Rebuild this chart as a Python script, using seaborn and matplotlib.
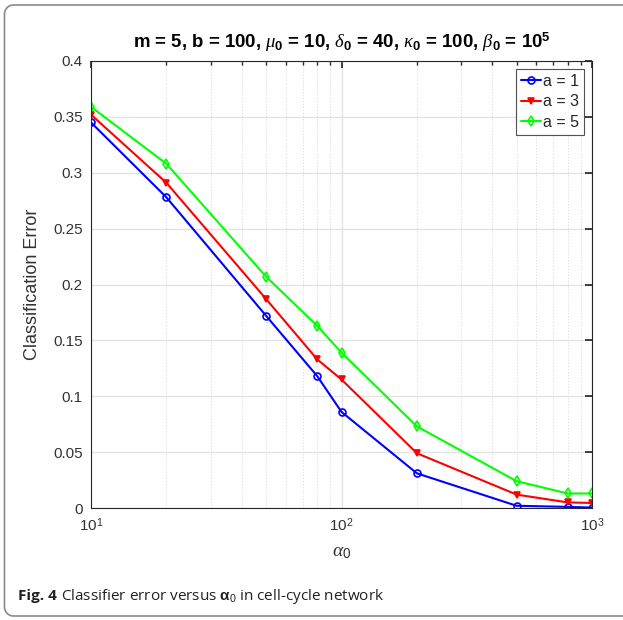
import numpy as np
import pandas as pd
import seaborn as sns
import matplotlib
matplotlib.use("Agg")
import matplotlib.pyplot as plt
from matplotlib.lines import Line2D
from matplotlib.ticker import FixedLocator, FuncFormatter, LogLocator, NullFormatter

# ---- data ----
alpha0 = [10, 20, 50, 80, 100, 200, 500, 800, 1000]
err_a1 = [0.345, 0.278, 0.172, 0.118, 0.086, 0.031, 0.002, 0.001, 0.0004]
err_a3 = [0.352, 0.291, 0.187, 0.133, 0.115, 0.049, 0.012, 0.005, 0.0045]
err_a5 = [0.359, 0.308, 0.207, 0.163, 0.139, 0.073, 0.024, 0.013, 0.013]
series_labels = ["a = 1", "a = 3", "a = 5"]
y_ticks = [0, 0.05, 0.1, 0.15, 0.2, 0.25, 0.3, 0.35, 0.4]
x_ticks = [10, 100, 1000]

sns.set_theme(style="white")
plt.rcParams["font.family"] = ["Liberation Sans", "DejaVu Sans"]
plt.rcParams["mathtext.fontset"] = "custom"
plt.rcParams["mathtext.rm"] = "Liberation Sans"
plt.rcParams["mathtext.it"] = "Liberation Serif:italic"
plt.rcParams["mathtext.bf"] = "Liberation Sans:bold"

df = pd.DataFrame({
    "alpha0": alpha0 * 3,
    "err": err_a1 + err_a3 + err_a5,
    "series": [series_labels[0]] * len(alpha0) + [series_labels[1]] * len(alpha0) + [series_labels[2]] * len(alpha0),
})

W, H = 623, 620
fig = plt.figure(figsize=(W / 100, H / 100), dpi=100)
ax = fig.add_axes([91 / W, 1 - 508 / H, (592 - 91) / W, (508 - 61) / H])

colors = {"a = 1": "#0000ff", "a = 3": "#ff0000", "a = 5": "#00ff00"}
markers = {"a = 1": "o", "a = 3": "v", "a = 5": "d"}
for lab in series_labels:
    sub = df[df["series"] == lab]
    filled = lab == "a = 3"
    sns.lineplot(data=sub, x="alpha0", y="err", ax=ax, color=colors[lab], marker=markers[lab],
                 markersize=5, markerfacecolor=colors[lab] if filled else "none",
                 markeredgecolor=colors[lab], markeredgewidth=1.2, linewidth=1.5, label=lab)

ax.set_xscale("log")
ax.set_xlim(10, 1000)
ax.set_ylim(0, 0.4)
ax.xaxis.set_major_locator(FixedLocator(x_ticks))
ax.xaxis.set_major_formatter(FuncFormatter(lambda v, p: r"$10^{%d}$" % int(round(np.log10(v)))))
ax.xaxis.set_minor_locator(LogLocator(base=10, subs=np.arange(2, 10)))
ax.xaxis.set_minor_formatter(NullFormatter())
ax.yaxis.set_major_locator(FixedLocator(y_ticks))
ax.yaxis.set_major_formatter(FuncFormatter(lambda v, p: "%g" % v))

ax.grid(True, which="major", axis="both", color="#e3e3e3", linewidth=1.0, linestyle="-")
ax.grid(True, which="minor", axis="x", color="#dddddd", linewidth=0.8, linestyle=":")
ax.set_axisbelow(True)

for s in ax.spines.values():
    s.set_visible(True)
    s.set_color("#262626")
    s.set_linewidth(0.8)
ax.tick_params(axis="both", which="both", direction="in", top=True, right=True,
               colors="#262626", labelcolor="#333333", labelsize=11)
ax.tick_params(axis="both", which="major", length=5)
ax.tick_params(axis="x", which="minor", length=3)
ax.tick_params(axis="x", which="major", pad=6)
ax.tick_params(axis="y", which="major", pad=6)

ax.set_xlabel(r"$\it{\alpha}_{\rm 0}$", fontsize=14, color="#333333", labelpad=7)
ax.set_ylabel("Classification Error", fontsize=13, color="#333333", labelpad=8.5)
ax.set_title(r"m = 5, b = 100, $\mu_{\mathbf{0}}$ = 10, $\delta_{\mathbf{0}}$ = 40, "
             r"$\kappa_{\mathbf{0}}$ = 100, $\beta_{\mathbf{0}}$ = 10$^{\mathbf{5}}$",
             fontsize=13.4, fontweight="bold", color="black", pad=9)

leg = ax.legend(loc="upper right", fontsize=11.5, frameon=True, fancybox=False,
                edgecolor="#262626", handlelength=1.25, handletextpad=0.15,
                borderpad=0.3, labelspacing=0.35, borderaxespad=0.5)
leg.get_frame().set_linewidth(0.8)

# figure frame (rounded on the left, open to the right edge)
r = 9
ang1 = np.linspace(np.pi / 2, np.pi, 12)
ang2 = np.linspace(np.pi, 1.5 * np.pi, 12)
left, top, bottom = 4.5, H - 5, 4
px = np.concatenate([[W], left + r + r * np.cos(ang1), left + r + r * np.cos(ang2), [W]])
py = np.concatenate([[top], top - r + r * np.sin(ang1), bottom + r + r * np.sin(ang2), [bottom]])
frame = Line2D(px / W, py / H, transform=fig.transFigure, color="#8a8a8a", linewidth=1.2)
fig.add_artist(frame)

# caption
fig.canvas.draw()
t1 = fig.text(18 / W, 1 - 596 / H, "Fig. 4", fontfamily=["Open Sans", "DejaVu Sans"],
              fontweight="bold", fontsize=11, va="center", ha="left", color="#222222")
fig.canvas.draw()
bb = t1.get_window_extent()
x2 = (bb.x1 + 4) / W
fig.text(x2, 1 - 596 / H, r"Classifier error versus $\mathbf{\alpha}_{\rm 0}$ in cell-cycle network",
         fontfamily=["Open Sans", "DejaVu Sans"], fontsize=11, va="center", ha="left", color="#222222")

fig.savefig("out.png", dpi=100)
